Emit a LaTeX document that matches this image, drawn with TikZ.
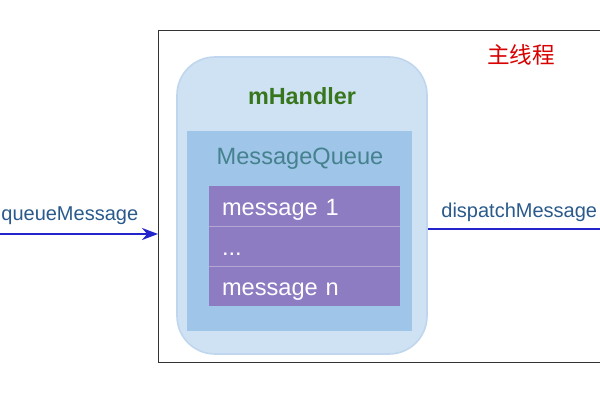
\documentclass[tikz,border=0pt]{standalone}
\usepackage{fontspec}
\setmainfont{Liberation Sans}
\newfontfamily\cjk{Noto Sans CJK SC}
\usetikzlibrary{arrows.meta}
\definecolor{hfill}{HTML}{CFE2F3}
\definecolor{hdraw}{HTML}{BFD6EE}
\definecolor{qfill}{HTML}{9FC5E8}
\definecolor{mfill}{HTML}{8E7CC3}
\definecolor{msep}{HTML}{B4A7D6}
\definecolor{arr}{HTML}{2424CC}
\definecolor{lbl}{HTML}{2A5A8C}
\definecolor{qtext}{HTML}{45818E}
\definecolor{gtext}{HTML}{38761D}
\tikzset{
  msgbox/.style={fill=mfill, minimum width=95.5pt, minimum height=20pt,
    inner xsep=6.5pt, inner ysep=0pt, text width=82.5pt, text height=11pt, text depth=1pt, align=left, text=white, font=\fontsize{11.8pt}{13pt}\selectfont, anchor=center},
  sepline/.style={draw=msep, line width=0.8pt},
  flow/.style={draw=arr, line width=1.1pt},
  flowlbl/.style={text=lbl, font=\fontsize{10pt}{11pt}\selectfont, inner sep=0pt}
}
\begin{document}
\begin{tikzpicture}[x=0.5pt,y=-0.5pt]
\useasboundingbox (0,0) rectangle (600,400);
\clip (0,0) rectangle (600,400);
\fill[white] (0,0) rectangle (600,400);
\node[draw=black!80, line width=0.7pt, minimum width=227pt, minimum height=166pt, inner sep=0pt, anchor=north west] (outer) at (158,30) {};
\node[text=red!85!black, font=\cjk\fontsize{11.3pt}{13pt}\selectfont, inner sep=0pt] (title) at (521,55) {主线程};
\node[draw=hdraw, line width=0.8pt, fill=hfill, rounded corners=19pt, minimum width=125pt, minimum height=148.5pt, inner sep=0pt] (handler) at (302,205.5) {};
\node[text=gtext, font=\bfseries\fontsize{11.7pt}{13pt}\selectfont, inner sep=0pt] (hname) at (302,96) {mHandler};
\node[fill=qfill, minimum width=112.5pt, minimum height=100pt, inner sep=0pt] (queue) at (299.5,231) {};
\node[text=qtext, font=\fontsize{11.8pt}{13pt}\selectfont, inner sep=0pt] (qname) at (300,159) {MessageQueue};
\node[msgbox] (m1) at (304.5,206) {message 1};
\node[msgbox] (m2) at (304.5,246) {...};
\node[msgbox] (m3) at (304.5,286) {message n};
\draw[sepline] (m1.south west) -- (m1.south east);
\draw[sepline] (m2.south west) -- (m2.south east);
\coordinate (lin) at (0,234);
\coordinate (rout) at (604,229);
\draw[flow, -{Stealth[length=8pt,width=6pt]}] (lin) -- (lin -| outer.west);
\node[flowlbl, anchor=base west] (ql) at (1,221) {queueMessage};
\draw[flow] (handler.east |- rout) -- (rout);
\node[flowlbl, anchor=base west] (dl) at (441,218) {dispatchMessage};
\end{tikzpicture}
\end{document}
